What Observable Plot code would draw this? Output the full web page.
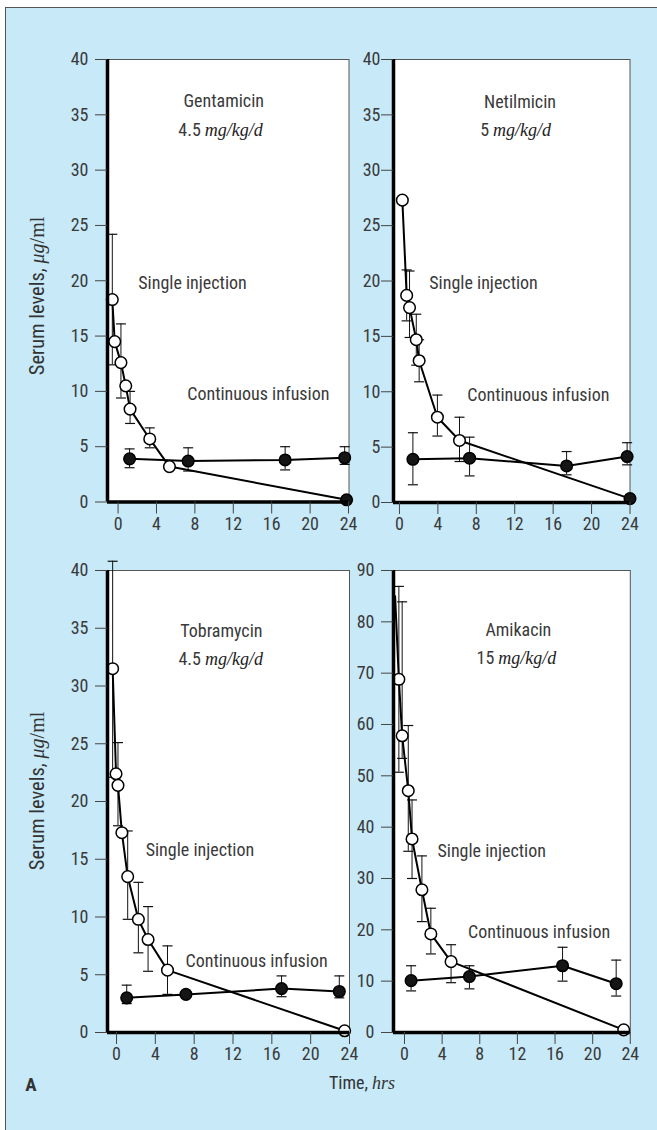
<!DOCTYPE html>
<html><head><meta charset="utf-8">
<script src="https://cdn.jsdelivr.net/npm/d3@7"></script>
<script src="https://cdn.jsdelivr.net/npm/@observablehq/plot@0.6"></script>
<style>
html,body{margin:0;padding:0;background:#fff;}
#root{position:relative;width:657px;height:1130px;overflow:hidden;font-family:"Liberation Sans Narrow","Roboto Condensed",Roboto,sans-serif;color:#333;}
#bg{position:absolute;left:5px;top:7px;right:-2px;bottom:-2px;background:#c7e9f8;border-left:1px solid #555;border-top:1px solid #555;}
.panel{position:absolute;}
.panel svg{overflow:visible;}
.lab{position:absolute;white-space:nowrap;font-size:18px;color:#333;transform:translate(-50%,-50%);}
.rot{transform:translate(-50%,-50%) rotate(-90deg);font-size:20.5px;}
.ser{font-family:"Liberation Serif","Times New Roman",serif;font-size:18px;}
.rot .ser{font-size:20px;}
.it{font-style:italic;}
</style></head>
<body><div id="root"><div id="bg"></div></div>
<script>
// ---------- data ----------
const xTicks = [0, 4, 8, 12, 16, 20, 24];
const yTicks40 = [0, 5, 10, 15, 20, 25, 30, 35, 40];
const yTicks90 = [0, 10, 20, 30, 40, 50, 60, 70, 80, 90];
const drugs = ["Gentamicin", "Netilmicin", "Tobramycin", "Amikacin"];
const doses = ["4.5", "5", "4.5", "15"];
const doseUnit = "mg/kg/d";
const labelSingle = "Single injection";
const labelCont = "Continuous infusion";

// Gentamicin
const gentSingleT = [-0.6, -0.35, 0.3, 0.8, 1.25, 3.3, 5.35, 23.8];
const gentSingleV = [18.3, 14.5, 12.6, 10.5, 8.4, 5.7, 3.2, 0.2];
const gentSingleLo = [12.4, null, 9.4, null, 7.1, 4.9, null, null];
const gentSingleHi = [24.2, null, 16.1, null, 10.0, 6.7, null, null];
const gentSingleMk = ["open", "open", "open", "open", "open", "open", "open", "filled"];
const gentContT = [1.2, 7.3, 17.4, 23.6];
const gentContV = [3.9, 3.7, 3.8, 4.0];
const gentContLo = [3.1, 2.8, 2.9, 3.4];
const gentContHi = [4.8, 4.9, 5.0, 5.0];

// Netilmicin
const netSingleT = [0.3, 0.75, 1.05, 1.75, 2.05, 3.95, 6.25, 24.0];
const netSingleV = [27.3, 18.7, 17.6, 14.7, 12.8, 7.7, 5.6, 0.35];
const netSingleLo = [null, 16.4, 14.9, 12.4, 10.9, 6.0, 3.7, null];
const netSingleHi = [null, 21.0, 20.9, 17.0, 14.7, 9.7, 7.7, null];
const netSingleMk = ["open", "open", "open", "open", "open", "open", "open", "filled"];
const netContT = [1.4, 7.3, 17.4, 23.7];
const netContV = [3.9, 4.0, 3.3, 4.15];
const netContLo = [1.6, 2.4, 2.5, 3.4];
const netContHi = [6.3, 5.9, 4.6, 5.4];

// Tobramycin
const tobSingleT = [-0.4, -0.05, 0.15, 0.55, 1.15, 2.25, 3.25, 5.25, 23.5];
const tobSingleV = [31.5, 22.4, 21.4, 17.3, 13.5, 9.8, 8.05, 5.4, 0.15];
const tobSingleLo = [22.1, null, 17.9, null, 9.8, 6.9, 5.3, 3.3, null];
const tobSingleHi = [40.8, null, 25.1, null, 17.45, 13.0, 10.9, 7.5, null];
const tobSingleMk = ["open", "open", "open", "open", "open", "open", "open", "open", "open"];
const tobContT = [1.05, 7.15, 17.0, 22.95];
const tobContV = [3.0, 3.3, 3.8, 3.55];
const tobContLo = [2.5, null, 3.1, 3.0];
const tobContHi = [4.1, null, 4.9, 4.9];

// Amikacin
const amiSingleT = [-1.0, -0.6, -0.25, 0.4, 0.8, 1.85, 2.8, 4.95, 23.3];
const amiSingleV = [85, 68.8, 57.8, 47.1, 37.7, 27.8, 19.2, 13.8, 0.5];
const amiSingleLo = [null, 50.7, 53.4, 35.3, 30.0, 21.6, 15.3, 9.7, null];
const amiSingleHi = [null, 86.9, 83.9, 59.8, 45.3, 34.4, 24.2, 17.1, null];
const amiSingleMk = ["none", "open", "open", "open", "open", "open", "open", "open", "open"];
const amiContT = [0.7, 6.9, 16.8, 22.5];
const amiContV = [10.1, 10.9, 13.0, 9.5];
const amiContLo = [8.1, 8.5, 10.0, 7.1];
const amiContHi = [13.0, 13.0, 16.6, 14.1];

// annotation anchors (data units)
const titleX = [11.0, 12.55, 10.8, 12.1];
const titleY = [36.2, 36.1, 34.7, 78.3];
const doseX = [8.83, 9.54, 8.9, 9.76];
const doseY = [33.6, 33.6, 32.35, 73.0];
const singleLabX = [2.1, 3.1, 3.0, 3.5];
const singleLabY = [19.8, 19.8, 15.8, 35.3];
const contLabX = [7.2, 7.05, 7.1, 6.75];
const contLabY = [9.7, 9.7, 6.15, 19.5];

// ---------- layout ----------
const SANS = '"Liberation Sans Narrow", "Roboto Condensed", Roboto, sans-serif';
const ML = 50, MR = 12, MT = 14, MB = 40;
const panels = [
  {i: 0, frame: [107, 348.5, 59, 501.5], xDomain: [-1.1, 24.05], yDomain: [0, 40], yTicks: yTicks40, pad: 7,
   s: [gentSingleT, gentSingleV, gentSingleLo, gentSingleHi, gentSingleMk], c: [gentContT, gentContV, gentContLo, gentContHi]},
  {i: 1, frame: [392.5, 629, 58.5, 501.5], xDomain: [-0.62, 24.0], yDomain: [0, 40], yTicks: yTicks40, pad: 1,
   s: [netSingleT, netSingleV, netSingleLo, netSingleHi, netSingleMk], c: [netContT, netContV, netContLo, netContHi]},
  {i: 2, frame: [107, 349, 570, 1032], xDomain: [-0.93, 24.0], yDomain: [0, 40], yTicks: yTicks40, pad: 7,
   s: [tobSingleT, tobSingleV, tobSingleLo, tobSingleHi, tobSingleMk], c: [tobContT, tobContV, tobContLo, tobContHi]},
  {i: 3, frame: [392.5, 629.3, 570, 1032], xDomain: [-1.17, 24.0], yDomain: [0, 90], yTicks: yTicks90, pad: 7,
   s: [amiSingleT, amiSingleV, amiSingleLo, amiSingleHi, amiSingleMk], c: [amiContT, amiContV, amiContLo, amiContHi]}
];

const cap = {draw(ctx, size) { const w = Math.sqrt(size / Math.PI); ctx.moveTo(-w, 0); ctx.lineTo(w, 0); }};
const root = document.getElementById("root");

function rows(t, v, lo, hi, mk) {
  return t.map((x, k) => ({x, y: v[k], lo: lo[k], hi: hi[k], mk: mk ? mk[k] : "filled"}));
}

for (const p of panels) {
  const [fl, fr, ft, fb] = p.frame;
  const single = rows(...p.s);
  const cont = rows(...p.c);
  const all = single.concat(cont);
  const bars = all.filter(d => d.lo != null);
  const i = p.i;
  const chart = Plot.plot({
    width: ML + (fr - fl) + MR,
    height: MT + (fb - ft) + MB,
    marginLeft: ML, marginRight: MR, marginTop: MT, marginBottom: MB,
    style: {background: "transparent", fontFamily: SANS, fontSize: "18px", color: "#333", overflow: "visible"},
    x: {domain: p.xDomain},
    y: {domain: p.yDomain},
    marks: [
      Plot.frame({fill: "white", stroke: "#555", strokeWidth: 1}),
      Plot.ruleX(bars, {x: "x", y1: "lo", y2: "hi", stroke: "#111", strokeWidth: 1}),
      Plot.dot(bars, {x: "x", y: "lo", symbol: cap, r: 5, fill: "none", stroke: "#111", strokeWidth: 1.2}),
      Plot.dot(bars, {x: "x", y: "hi", symbol: cap, r: 5, fill: "none", stroke: "#111", strokeWidth: 1.2}),
      Plot.line(single, {x: "x", y: "y", stroke: "#000", strokeWidth: 2}),
      Plot.line(cont, {x: "x", y: "y", stroke: "#000", strokeWidth: 2}),
      Plot.dot(all.filter(d => d.mk === "open"), {x: "x", y: "y", r: 5.8, fill: "white", stroke: "#000", strokeWidth: 1.5}),
      Plot.dot(all.filter(d => d.mk === "filled"), {x: "x", y: "y", r: 5.8, fill: "#151515", stroke: "#000", strokeWidth: 1.5}),
      Plot.ruleX([p.xDomain[0]], {stroke: "#000", strokeWidth: 3.5}),
      Plot.ruleY([p.yDomain[0]], {stroke: "#000", strokeWidth: 3.5}),
      Plot.axisX({ticks: xTicks, tickSize: 12, tickPadding: 3, label: null, stroke: "#444", fill: "#3a3a3a", fontSize: 18}),
      Plot.axisY({ticks: p.yTicks, tickSize: 12, tickPadding: p.pad, label: null, stroke: "#444", fill: "#3a3a3a", fontSize: 18}),
      Plot.text([drugs[i]], {x: () => titleX[i], y: () => titleY[i], text: d => d, fontSize: 18, fill: "#3a3a3a"}),
      Plot.text([doses[i]], {x: () => doseX[i], y: () => doseY[i], text: d => d, textAnchor: "end", dx: -2, fontSize: 18, fill: "#3a3a3a"}),
      Plot.text([doseUnit], {x: () => doseX[i], y: () => doseY[i], text: d => d, textAnchor: "start", dx: 2,
        fontFamily: "Liberation Serif, Times New Roman, serif", fontStyle: "italic", fontSize: 18, fill: "#222"}),
      Plot.text([labelSingle], {x: () => singleLabX[i], y: () => singleLabY[i], text: d => d, textAnchor: "start", fontSize: 18, fill: "#3a3a3a"}),
      Plot.text([labelCont], {x: () => contLabX[i], y: () => contLabY[i], text: d => d, textAnchor: "start", fontSize: 18, fill: "#3a3a3a"})
    ]
  });
  const div = document.createElement("div");
  div.className = "panel";
  div.style.left = (fl - ML) + "px";
  div.style.top = (ft - MT) + "px";
  div.appendChild(chart);
  root.appendChild(div);
}

function addLabel(html, x, y, cls) {
  const d = document.createElement("div");
  d.className = "lab" + (cls ? " " + cls : "");
  d.style.left = x + "px";
  d.style.top = y + "px";
  d.innerHTML = html;
  root.appendChild(d);
}
const yLabelHtml = 'Serum levels, <span class="ser it">&mu;g</span><span class="ser">/ml</span>';
addLabel(yLabelHtml, 37, 296, "rot");
addLabel(yLabelHtml, 37, 791, "rot");
addLabel('Time, <span class="ser it">hrs</span>', 362, 1083);
addLabel('<b style="font-size:19px">A</b>', 31, 1084);
</script>
</body></html>
